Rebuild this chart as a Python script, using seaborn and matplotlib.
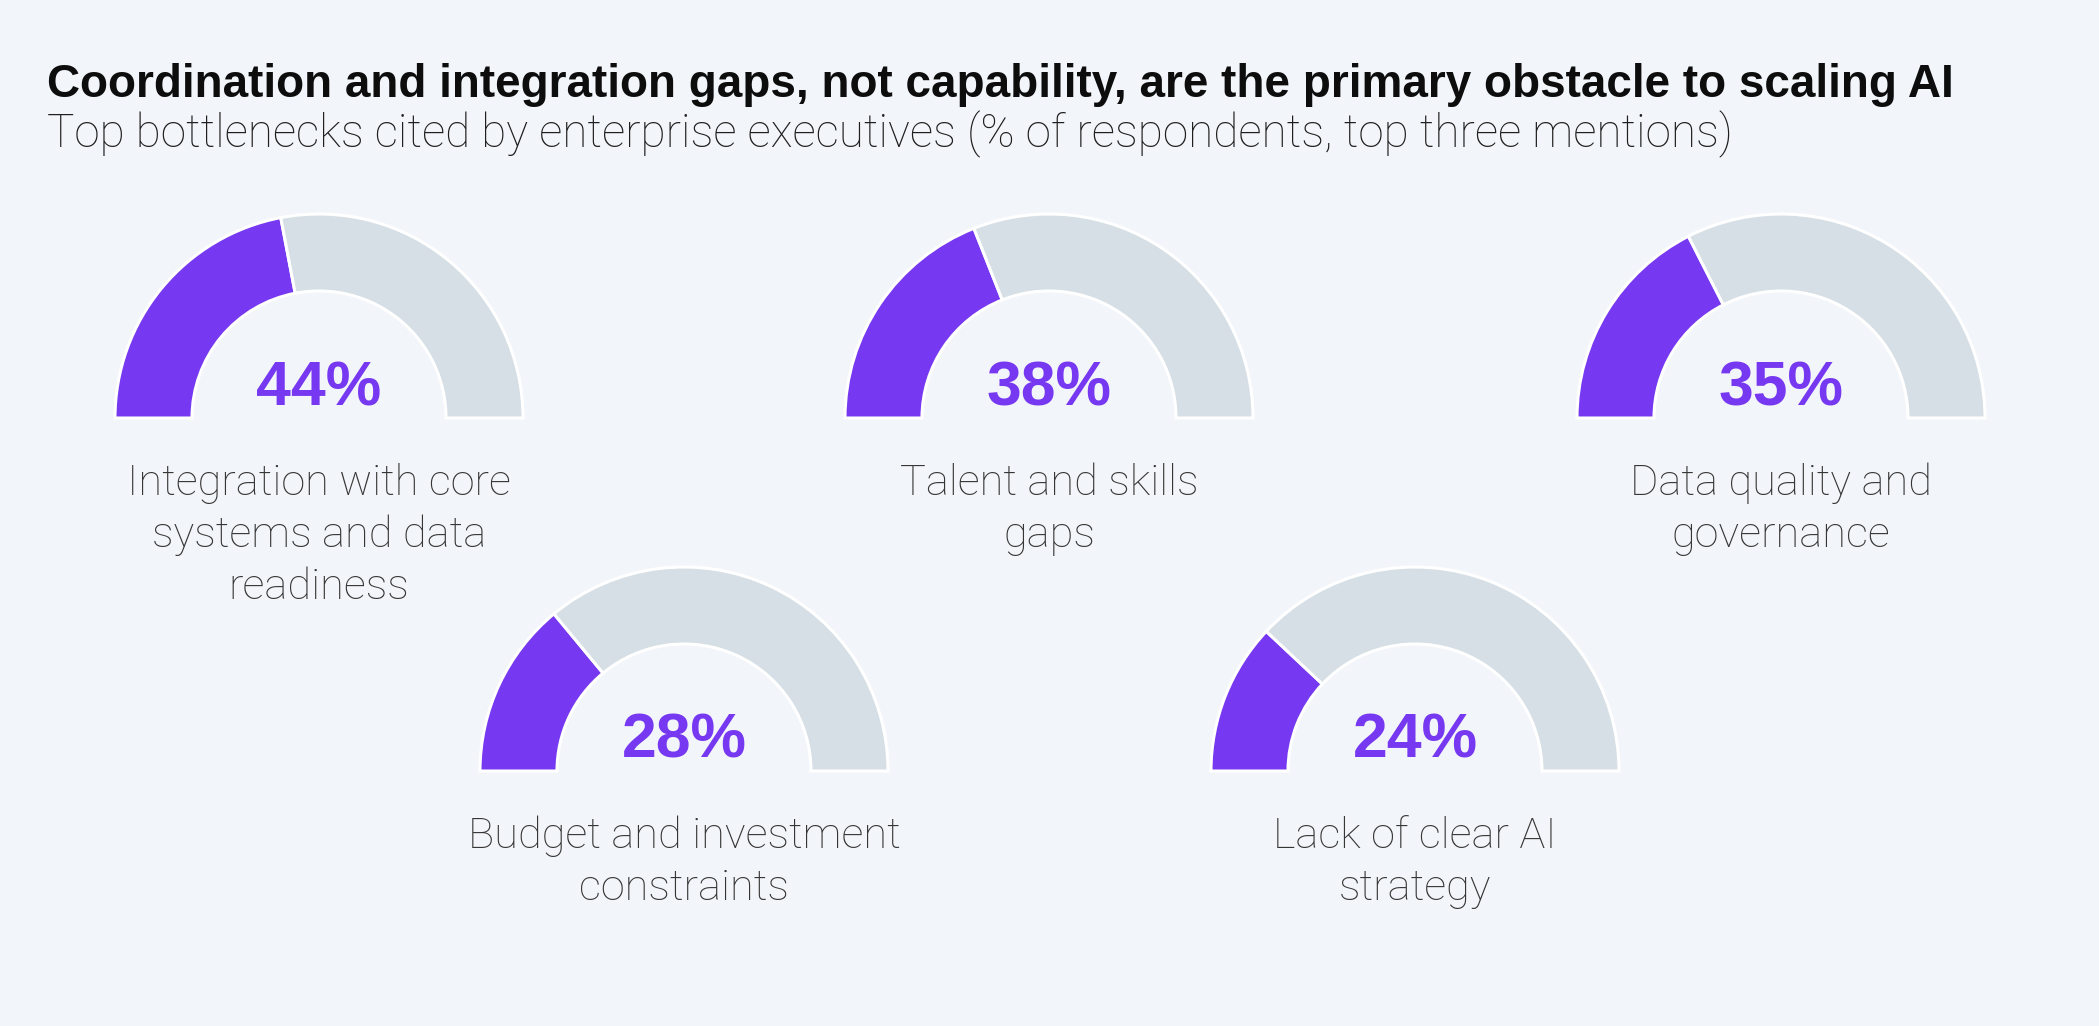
import numpy as np
import pandas as pd
import matplotlib
matplotlib.use("Agg")
import matplotlib.pyplot as plt
import seaborn as sns

# data
bottlenecks = [
    "Integration with core\nsystems and data\nreadiness",
    "Talent and skills\ngaps",
    "Data quality and\ngovernance",
    "Budget and investment\nconstraints",
    "Lack of clear AI\nstrategy",
]
shares = [44, 38, 35, 28, 24]

title = "Coordination and integration gaps, not capability, are the primary obstacle to scaling AI"
subtitle = "Top bottlenecks cited by enterprise executives (% of respondents, top three mentions)"

df = pd.DataFrame({"bottleneck": bottlenecks, "share": shares})

# look
W, H = 2099, 1026
bg = "#f2f5f9"
purple = "#7638f0"
track = "#d5dfe5"

sns.set_theme(style="white", rc={"figure.facecolor": bg, "axes.facecolor": bg})
plt.rcParams["font.family"] = ["Liberation Sans", "DejaVu Sans"]

fig = plt.figure(figsize=(W / 100, H / 100), dpi=100)

# gauge centres in pixels (layout only)
centers = [(319, 418), (1049, 418), (1781, 418), (684, 771), (1415, 771)]
R = 204.0
ring = 77.0
label_gap = 77.0   # px from gauge base to first label baseline
line_step = 52.0   # px between label baselines

for (cx, cy), (_, row) in zip(centers, df.iterrows()):
    ax = fig.add_axes([(cx - R) / W, 1 - (cy + R) / H, 2 * R / W, 2 * R / H])
    v = row["share"]
    wedges, _ = ax.pie(
        [v, 100 - v, 100],
        startangle=180,
        counterclock=False,
        colors=[purple, track, bg],
        radius=1,
        wedgeprops=dict(width=ring / R, edgecolor="white", linewidth=2.2),
    )
    wedges[2].set_visible(False)
    ax.set_xlim(-1, 1)
    ax.set_ylim(-1, 1)
    ax.axis("off")

    ax.text(0, 13 / R, f"{v}%", ha="center", va="baseline",
            fontsize=45, fontweight="bold", color=purple)
    for i, line in enumerate(row["bottleneck"].split("\n")):
        ax.text(0, -(label_gap + i * line_step) / R, line,
                ha="center", va="baseline", fontsize=31.2, color="#363636",
                family=["Roboto", "DejaVu Sans"], fontweight="light",
                clip_on=False)

fig.text(47 / W, 1 - 97 / H, title, ha="left", va="baseline",
         fontsize=33, fontweight="bold", color="#0d0d0d")
fig.text(47 / W, 1 - 147 / H, subtitle, ha="left", va="baseline",
         fontsize=33, color="#1f1f1f",
         family=["Roboto", "DejaVu Sans"], fontweight="light")

fig.savefig("out.png", dpi=100, facecolor=bg)
